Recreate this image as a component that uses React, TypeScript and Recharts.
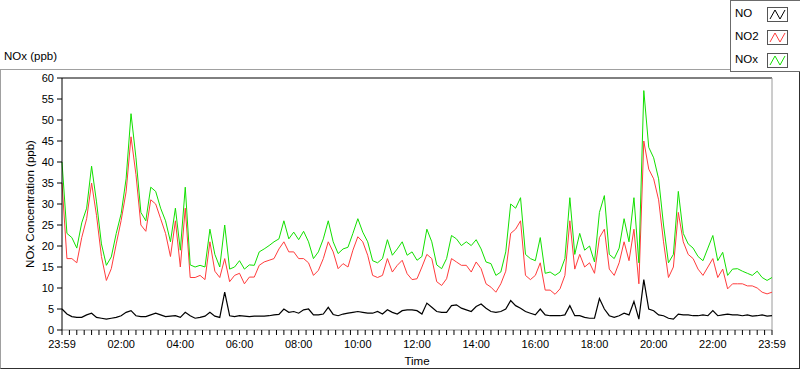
import { LineChart, Line, XAxis, YAxis, ReferenceLine, Label } from "recharts";

const FONT = '"Liberation Sans", Arial, sans-serif';

// one reading every 10 minutes, 23:59 -> 23:59
const sampleStepMinutes = 10;

const noValues = [
  5, 3.8, 3.2, 3.0, 3.0, 3.6, 4.0, 3.0, 2.8, 2.6, 2.8, 3.0,
  3.4, 4.2, 4.6, 3.4, 3.2, 3.2, 3.6, 4.0, 3.6, 3.2, 3.3, 3.4,
  3.0, 4.2, 3.4, 2.8, 3.0, 3.3, 4.2, 3.3, 3.0, 9.0, 3.4, 3.2,
  3.4, 3.3, 3.2, 3.3, 3.3, 3.3, 3.4, 3.6, 3.7, 5.0, 4.2, 4.4,
  4.0, 4.8, 5.0, 3.6, 3.6, 3.8, 5.4, 3.7, 3.4, 3.8, 4.0, 4.2,
  4.4, 4.2, 4.0, 4.0, 4.4, 3.8, 4.8, 4.2, 3.8, 4.6, 4.8, 4.8,
  4.6, 3.8, 6.4, 5.4, 4.4, 4.2, 4.2, 5.8, 6.0, 5.2, 4.8, 4.4,
  5.6, 6.2, 5.2, 4.4, 4.2, 4.4, 5.0, 7.0, 5.8, 5.2, 4.4, 4.0,
  3.6, 5.0, 3.6, 3.4, 3.4, 3.4, 3.6, 5.8, 3.4, 3.4, 3.0, 2.8,
  2.8, 7.5, 5.0, 3.4, 3.0, 3.4, 4.0, 3.6, 6.8, 2.6, 12, 5.0,
  4.6, 3.6, 3.4, 2.8, 2.6, 3.8, 3.6, 3.6, 3.4, 3.4, 3.6, 3.4,
  4.6, 3.4, 3.6, 3.8, 3.6, 3.6, 3.4, 3.6, 3.3, 3.4, 3.6, 3.3,
  3.4,
];

const no2Values = [
  35, 17, 17, 16, 22, 26.5, 35, 27.3, 17.5, 11.8, 14.6, 20.5,
  26.1, 32.9, 46, 37, 25, 23.5, 31, 30, 26.5, 23, 17.5, 26,
  15, 29, 12.5, 12.5, 13, 12, 21, 14, 12.5, 17, 11.5, 13,
  13.5, 11, 12.6, 12.6, 15.4, 16.2, 16.6, 17, 19.3, 21, 18.6, 18.6,
  17, 17, 16, 13, 14.2, 17, 21, 18.6, 14.6, 15.8, 15, 19,
  22.2, 21, 17.8, 13, 12.5, 13, 17, 13.8, 15.4, 16.6, 13.4, 12,
  12.2, 15, 18, 17, 11.5, 10.6, 12.2, 17, 16.2, 15.4, 15.4, 13.8,
  16.2, 14.6, 11, 10.2, 9, 11, 14, 23, 24, 26, 13, 12,
  13, 16, 9.5, 9.5, 8.5, 9.8, 13, 26, 14.5, 18, 15, 16,
  13.5, 22, 24, 14.5, 13, 16, 21, 16.5, 24, 11, 45, 38.3,
  36, 31, 21, 12.5, 15, 28, 21, 18, 17, 14.5, 13, 15,
  17, 12.5, 14.5, 9.8, 11, 11, 11, 10.5, 10.5, 10, 9, 8.6,
  9,
];

const noxValues = [
  40, 23, 22, 19.5, 25.5, 29, 39, 30.5, 20.5, 15.4, 17.4, 23,
  27.7, 36, 51.5, 41, 28, 26, 34, 33, 29, 26, 21, 29,
  19, 34, 15.5, 15, 15.4, 15, 24, 18, 15, 25, 14.5, 15,
  16.5, 14.5, 15.5, 15.4, 18.6, 19.3, 20.1, 21, 21.7, 26, 21.7, 23.3,
  21.5, 23.5, 21, 17, 18.6, 21.7, 26, 21, 18.2, 19.3, 19.7, 23,
  26.5, 23.3, 21, 16.5, 16, 17, 21.5, 17.8, 19.3, 21, 17.8, 18.6,
  16.6, 17.5, 24, 21, 15.5, 14.6, 17, 22.5, 21.7, 20.1, 21, 20.1,
  21.5, 19.3, 16.2, 15.8, 13, 13.8, 18.6, 30, 29, 31.5, 18, 17,
  16.5, 22, 13.5, 13.8, 13, 13.8, 17, 31.5, 18, 23, 19, 20,
  16.2, 28, 32, 18, 17, 19.5, 26.5, 21, 31.5, 16, 57, 43.5,
  41, 36, 25, 16, 18, 33, 23, 20.5, 19.5, 17.5, 16.5, 19.5,
  22.5, 16.5, 18.5, 13, 14.5, 14.6, 14, 13.5, 13, 14, 12.5, 11.8,
  12.5,
];

const hourTickMinutes = [0, 120, 240, 360, 480, 600, 720, 840, 960, 1080, 1200, 1320, 1440];
const hourTickLabels = ["23:59", "02:00", "04:00", "06:00", "08:00", "10:00", "12:00", "14:00", "16:00", "18:00", "20:00", "22:00", "23:59"];
const yTicks = [0, 5, 10, 15, 20, 25, 30, 35, 40, 45, 50, 55, 60];

const series = [
  { key: "NO", color: "#000000", width: 1.2 },
  { key: "NO2", color: "#ff3c3c", width: 1 },
  { key: "NOx", color: "#12e000", width: 1 },
];

const chartData = noValues.map((no, i) => ({
  minute: i * sampleStepMinutes,
  NO: no,
  NO2: no2Values[i],
  NOx: noxValues[i],
}));

// minor ticks every 15 min, labels only on the 2 hour marks
const xTicks: number[] = [];
for (let m = 0; m <= 1440; m += 15) xTicks.push(m);

const formatTime = (m: number) => {
  const idx = hourTickMinutes.indexOf(m);
  return idx >= 0 ? hourTickLabels[idx] : "";
};

const tickStyle = { fill: "#000", fontSize: 11, fontFamily: FONT };

function LegendBox() {
  return (
    <div
      style={{
        position: "absolute",
        left: 730,
        top: 0,
        width: 72,
        height: 72,
        boxSizing: "border-box",
        border: "1px solid #6b6b6b",
        background: "#fff",
        fontFamily: FONT,
        fontSize: 11.5,
      }}>
      {series.map((s, i) => (
        <div
          key={s.key}
          style={{ position: "absolute", left: 4, top: 5 + i * 23, height: 16, width: 62 }}>
          <span style={{ position: "absolute", left: 0, top: 1 }}>{s.key}</span>
          <svg
            width={21}
            height={15}
            style={{ position: "absolute", left: 32, top: 1 }}>
            <rect x={0.5} y={0.5} width={20} height={14} fill="#fff" stroke="#555" />
            <polyline
              points="3,12 8,3 13,12 18,3"
              fill="none"
              stroke={s.color}
              strokeWidth={1}
            />
          </svg>
        </div>
      ))}
    </div>
  );
}

export default function App() {
  return (
    <div
      style={{
        position: "absolute",
        left: 0,
        top: 0,
        width: 800,
        height: 369,
        background: "#fff",
        overflow: "hidden",
        fontFamily: FONT,
      }}>
      <div
        style={{
          position: "absolute",
          left: 0,
          top: 69,
          width: 800,
          height: 300,
          boxSizing: "border-box",
          borderLeft: "1px solid #a0a0a0",
          borderTop: "1px solid #a0a0a0",
          borderRight: "1px solid #303030",
          borderBottom: "1px solid #303030",
        }}
      />
      <div style={{ position: "absolute", left: 4, top: 50, fontSize: 11.5, color: "#000" }}>
        NOx (ppb)
      </div>
      <LegendBox />
      <div style={{ position: "absolute", left: 0, top: 70 }}>
        <LineChart
          width={795}
          height={297}
          data={chartData}
          margin={{ top: 8, right: 23, left: 0, bottom: 0 }}>
          <XAxis
            dataKey="minute"
            type="number"
            domain={[0, 1440]}
            ticks={xTicks}
            interval={0}
            tickFormatter={formatTime}
            tick={tickStyle}
            tickSize={5}
            tickMargin={5}
            height={37}
            axisLine={{ stroke: "#8c8c8c" }}
            tickLine={{ stroke: "#000" }}>
            <Label
              value="Time"
              position="insideBottom"
              offset={2}
              style={{ fill: "#000", fontSize: 11.5, fontFamily: FONT }}
            />
          </XAxis>
          <YAxis
            type="number"
            domain={[0, 60]}
            ticks={yTicks}
            interval={0}
            tick={tickStyle}
            tickSize={5}
            tickMargin={3}
            width={62}
            axisLine={{ stroke: "#000" }}
            tickLine={{ stroke: "#000" }}>
            <Label
              value="NOx Concentration (ppb)"
              angle={-90}
              position="center"
              dx={-1}
              style={{ fill: "#000", fontSize: 11.5, fontFamily: FONT, textAnchor: "middle" }}
            />
          </YAxis>
          <ReferenceLine y={60} stroke="#000" />
          <ReferenceLine x={1440} stroke="#9a9a9a" />
          {series.map((s) => (
            <Line
              key={s.key}
              type="linear"
              dataKey={s.key}
              stroke={s.color}
              strokeWidth={s.width}
              dot={false}
              activeDot={false}
              isAnimationActive={false}
            />
          ))}
        </LineChart>
      </div>
    </div>
  );
}
